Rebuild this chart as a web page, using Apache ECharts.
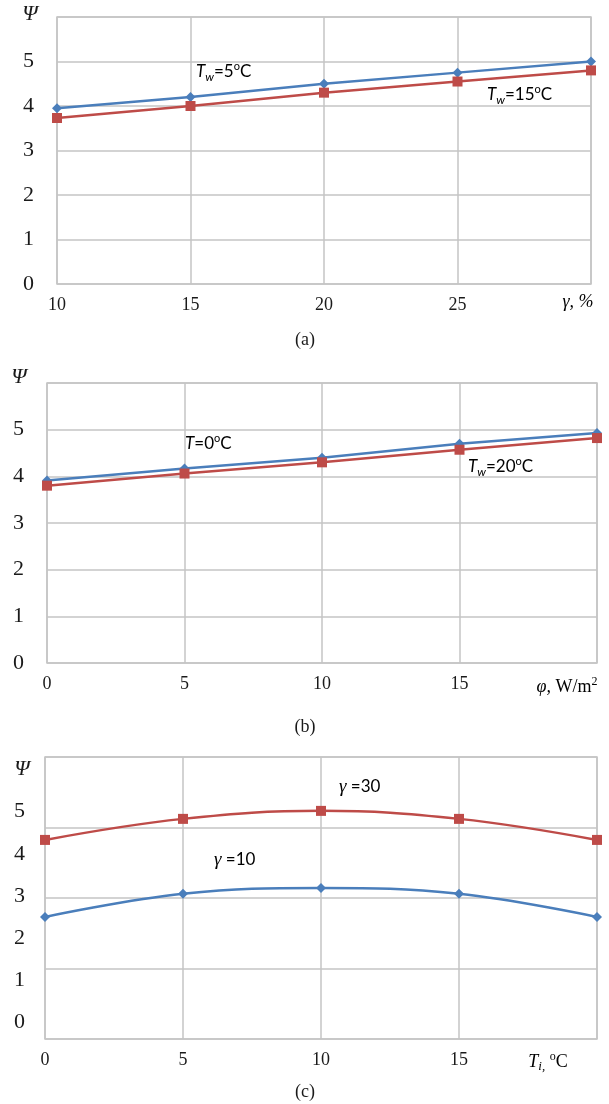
<!DOCTYPE html>
<html>
<head>
<meta charset="utf-8">
<script src="https://cdn.jsdelivr.net/npm/echarts@6/dist/echarts.min.js"></script>
<style>
  html, body { margin: 0; padding: 0; background: #fff; }
  #chart { width: 609px; height: 1104px; }
</style>
</head>
<body>
<div id="chart"></div>
<script>
// (a) Psi vs gamma
const gammaVals = [10, 15, 20, 25, 30]
const psiTw5 = [3.95, 4.2, 4.5, 4.75, 5.0]
const psiTw15 = [3.73, 4.0, 4.3, 4.55, 4.8]
// (b) Psi vs phi
const phiVals = [0, 5, 10, 15, 20]
const psiT0 = [3.91, 4.17, 4.4, 4.7, 4.93]
const psiTw20 = [3.8, 4.06, 4.3, 4.57, 4.82]
// (c) Psi vs Ti
const tiVals = [0, 5, 10, 15, 20]
const psiG30 = [4.33, 4.83, 5.02, 4.83, 4.33]
const psiG10 = [2.5, 3.05, 3.19, 3.05, 2.5]
const psiTicks = [0, 1, 2, 3, 4, 5]

const BLUE = '#4a7ebb'
const RED = '#be4b48'
const GRID = '#c4c4c4'
const INK = '#1a1a1a'
const SERIF = '"Liberation Serif", "DejaVu Serif", serif'
const SANS = 'Lato, "Open Sans", "Liberation Sans", sans-serif'

function pairs(xs, ys) {
  return xs.map((x, i) => [x, ys[i]])
}

function xAxisFor(gridIndex, min, max) {
  return {
    type: 'value',
    gridIndex: gridIndex,
    min: min,
    max: max,
    interval: 5,
    axisLine: { show: false },
    axisTick: { show: false },
    splitLine: { show: true, lineStyle: { color: GRID, width: 1.5 } },
    axisLabel: {
      margin: 12,
      fontFamily: SERIF,
      fontSize: 18,
      color: INK,
      formatter: v => (v === max ? '' : String(v))
    }
  }
}

function yAxisFor(gridIndex) {
  return {
    type: 'value',
    gridIndex: gridIndex,
    min: 0,
    max: 6,
    interval: 1,
    axisLine: { show: false },
    axisTick: { show: false },
    splitLine: { show: true, lineStyle: { color: GRID, width: 1.5 } },
    axisLabel: {
      margin: 23,
      fontFamily: SERIF,
      fontSize: 22,
      color: INK,
      padding: [0, 0, 9, 0],
      formatter: v => (v === 6 ? '' : String(v))
    }
  }
}

function lineSeries(xi, yi, xs, ys, color, symbol, size, smooth) {
  return {
    type: 'line',
    xAxisIndex: xi,
    yAxisIndex: yi,
    data: pairs(xs, ys),
    symbol: symbol,
    symbolSize: size,
    smooth: smooth,
    clip: false,
    lineStyle: { color: color, width: 2.5 },
    itemStyle: { color: color },
    animation: false
  }
}

const sansRich = {
  i: { fontFamily: SANS, fontStyle: 'italic', fontSize: 17, lineHeight: 22, color: INK },
  n: { fontFamily: SANS, fontSize: 17, lineHeight: 22, color: INK },
  sub: { fontFamily: SANS, fontStyle: 'italic', fontSize: 12, lineHeight: 13, verticalAlign: 'bottom', color: INK },
  sup: { fontFamily: SANS, fontSize: 11, lineHeight: 13, verticalAlign: 'top', color: INK },
  g: { fontFamily: SERIF, fontStyle: 'italic', fontSize: 19, lineHeight: 22, color: INK }
}

const serifRich = {
  i: { fontFamily: SERIF, fontStyle: 'italic', fontSize: 18, lineHeight: 22, color: INK },
  n: { fontFamily: SERIF, fontSize: 18, lineHeight: 22, color: INK },
  sub: { fontFamily: SERIF, fontStyle: 'italic', fontSize: 13, lineHeight: 13, verticalAlign: 'bottom', color: INK },
  sup: { fontFamily: SERIF, fontSize: 12, lineHeight: 12, verticalAlign: 'top', color: INK }
}

function text(x, y, str, rich, align) {
  return {
    type: 'text',
    x: x,
    y: y,
    style: { text: str, rich: rich, align: align || 'left', verticalAlign: 'middle' }
  }
}

function psi(x, y) {
  return {
    type: 'text',
    x: x,
    y: y,
    style: {
      text: 'Ψ',
      fontFamily: SERIF,
      fontStyle: 'italic',
      fontSize: 22,
      fill: INK,
      align: 'center',
      verticalAlign: 'middle'
    }
  }
}

function caption(y, str) {
  return {
    type: 'text',
    x: 305,
    y: y,
    style: { text: str, fontFamily: SERIF, fontSize: 18, fill: INK, align: 'center', verticalAlign: 'middle' }
  }
}

const chart = echarts.init(document.getElementById('chart'), null, { renderer: 'canvas' })

chart.setOption({
  backgroundColor: '#fff',
  animation: false,
  grid: [
    { left: 57, top: 17, width: 534, height: 267, show: true, borderColor: GRID, borderWidth: 1.5 },
    { left: 47, top: 383, width: 550, height: 280, show: true, borderColor: GRID, borderWidth: 1.5 },
    { left: 45, top: 757, width: 552, height: 282, show: true, borderColor: GRID, borderWidth: 1.5 }
  ],
  xAxis: [
    xAxisFor(0, 10, 30),
    xAxisFor(1, 0, 20),
    xAxisFor(2, 0, 20)
  ],
  yAxis: [
    yAxisFor(0),
    yAxisFor(1),
    {
      // labelled axis of (c): its labels do not sit on the gridlines
      type: 'value',
      gridIndex: 2,
      min: -0.4,
      max: 6.3,
      axisLine: { show: false },
      axisTick: { show: false },
      splitLine: { show: false },
      axisLabel: {
        customValues: psiTicks,
        margin: 20,
        fontFamily: SERIF,
        fontSize: 22,
        color: INK
      }
    },
    {
      // gridlines of (c)
      type: 'value',
      gridIndex: 2,
      position: 'right',
      min: 0,
      max: 4,
      interval: 1,
      axisLine: { show: false },
      axisTick: { show: false },
      axisLabel: { show: false },
      splitLine: { show: true, lineStyle: { color: GRID, width: 1.5 } }
    }
  ],
  series: [
    lineSeries(0, 0, gammaVals, psiTw5, BLUE, 'diamond', 10, false),
    lineSeries(0, 0, gammaVals, psiTw15, RED, 'rect', 10, false),
    lineSeries(1, 1, phiVals, psiT0, BLUE, 'diamond', 10, false),
    lineSeries(1, 1, phiVals, psiTw20, RED, 'rect', 10, false),
    lineSeries(2, 2, tiVals, psiG10, BLUE, 'diamond', 10, 0.4),
    lineSeries(2, 2, tiVals, psiG30, RED, 'rect', 10, 0.4)
  ],
  graphic: [
    psi(30, 14),
    psi(19, 377),
    psi(22, 769),
    // annotations
    text(196, 72, '{i|T}{sub|w}{n|=5}{sup|o}{n|C}', sansRich),
    text(487, 95, '{i|T}{sub|w}{n|=15}{sup|o}{n|C}', sansRich),
    text(185, 444, '{i|T}{n|=0}{sup|o}{n|C}', sansRich),
    text(468, 467, '{i|T}{sub|w}{n|=20}{sup|o}{n|C}', sansRich),
    text(339, 787, '{g|γ}{n| =30}', sansRich),
    text(214, 860, '{g|γ}{n| =10}', sansRich),
    // axis names
    text(578, 302, '{i|γ, %}', serifRich, 'center'),
    text(567, 687, '{i|φ,}{n| W/m}{sup|2}', serifRich, 'center'),
    text(548, 1062, '{i|T}{sub|i,}{n| }{sup|o}{n|C}', serifRich, 'center'),
    // captions
    caption(340, '(a)'),
    caption(727, '(b)'),
    caption(1092, '(c)')
  ]
})
</script>
</body>
</html>
